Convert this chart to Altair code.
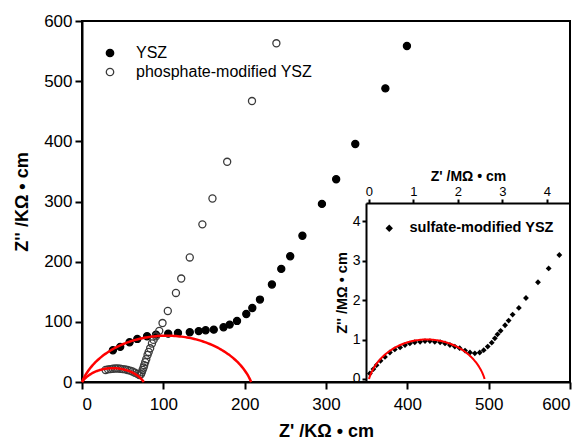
import math
import altair as alt
import pandas as pd

# ---- data ----
ysz_x = [38, 47, 58.5, 68, 80, 91, 106, 118, 132.5, 143.5, 152, 162, 174, 181.6, 190.6,
         202, 209.4, 218.8, 233.5, 245, 256, 271, 295, 312.5, 336, 373, 399.5]
ysz_y = [52.7, 58.4, 66, 71.6, 76, 78.8, 80.4, 81.6, 82.6, 84.6, 86, 87, 91, 95.4, 101.5,
         113, 123, 137, 162, 188, 209, 243, 296, 337, 395.5, 488, 558.5]

pho_x = [29, 32, 35, 38, 41, 44, 47, 50, 53, 56, 59, 62, 65, 68, 70.5, 72.5, 73.5, 74.5,
         75.7, 76.5, 77.7, 79, 80.6, 82, 83.8, 86, 88, 91, 95, 99, 105.5, 115.5, 122,
         132.5, 148, 160.4, 178.5, 209, 239]
pho_y = [20, 21, 21.5, 22, 22.5, 22.5, 22, 21.5, 21, 20, 19, 17.5, 15.5, 13.5, 11.5, 13,
         16, 20, 24, 28, 33, 38, 45, 50, 56, 64, 70, 76, 85, 98, 118, 148, 172,
         207, 262, 305, 366, 467, 563]

sul_x = [0.02, 0.10, 0.17, 0.26, 0.36, 0.47, 0.58, 0.70, 0.81, 0.92, 1.03, 1.15, 1.26,
         1.37, 1.48, 1.60, 1.71, 1.82, 1.93, 2.04, 2.16, 2.27, 2.38, 2.49, 2.58, 2.67,
         2.76, 2.83, 2.89, 2.96, 3.06, 3.14, 3.23, 3.37, 3.53, 3.80, 4.04, 4.28]
sul_y = [0.14, 0.25, 0.35, 0.46, 0.56, 0.67, 0.75, 0.80, 0.86, 0.90, 0.93, 0.94, 0.96,
         0.96, 0.94, 0.93, 0.90, 0.86, 0.82, 0.78, 0.72, 0.67, 0.65, 0.67, 0.73, 0.82,
         0.92, 1.03, 1.13, 1.22, 1.36, 1.48, 1.63, 1.80, 2.05, 2.45, 2.80, 3.14]

# fitted (depressed) semicircles: start, end on the real axis, and peak height
main_arc_start = [0, 0]
main_arc_end = [208, 76]
main_arc_height = [77, 23]
inset_arc_start = [0.0]
inset_arc_end = [2.6]
inset_arc_height = [1.0]

series_names = ["YSZ", "phosphate-modified YSZ"]
sulfate_name = "sulfate-modified YSZ"


def arc_frame(starts, ends, heights, n=120):
    rows = []
    for k, (x0, x1, h) in enumerate(zip(starts, ends, heights)):
        half = (x1 - x0) / 2.0
        cx = (x0 + x1) / 2.0
        r = (half ** 2 + h ** 2) / (2 * h)
        d = r - h
        th0 = math.asin(d / r)
        for i in range(n + 1):
            th = th0 + (math.pi - 2 * th0) * i / n
            rows.append({"arc": k, "i": i, "x": cx + r * math.cos(th), "y": -d + r * math.sin(th)})
    return pd.DataFrame(rows)


main_pts = pd.DataFrame(
    {"x": ysz_x + pho_x, "y": ysz_y + pho_y,
     "series": [series_names[0]] * len(ysz_x) + [series_names[1]] * len(pho_x)}
)
sul_df = pd.DataFrame({"x": sul_x, "y": sul_y, "series": [sulfate_name] * len(sul_x)})
main_arcs = arc_frame(main_arc_start, main_arc_end, main_arc_height)
inset_arcs = arc_frame(inset_arc_start, inset_arc_end, inset_arc_height)

W, H = 488, 361
FONT = "Liberation Sans"

common = dict(grid=False, domainColor="black", tickColor="black", labelColor="black",
              titleColor="black", titleFontWeight="bold", tickWidth=2, domainWidth=2)

# ---- main scales / axes ----
mx = alt.X("x:Q", scale=alt.Scale(domain=[0, 600], nice=False),
           axis=alt.Axis(values=[0, 100, 200, 300, 400, 500, 600], title="Z' /KΩ • cm",
                         titleFontSize=18, labelFontSize=17, tickSize=7,
                         labelPadding=7, titlePadding=10, **common))
my = alt.Y("y:Q", scale=alt.Scale(domain=[0, 600], nice=False),
           axis=alt.Axis(values=[0, 100, 200, 300, 400, 500, 600], title="Z'' /KΩ • cm",
                         titleFontSize=18, labelFontSize=17, tickSize=7,
                         labelPadding=3, titlePadding=12, **common))

pts = alt.Chart(main_pts).mark_point(shape="circle", size=50, strokeWidth=1.3, opacity=1).encode(
    x=mx, y=my,
    fill=alt.Fill("series:N", scale=alt.Scale(domain=series_names, range=["black", "transparent"]),
                  legend=alt.Legend(title=None, orient="none", legendX=20, legendY=24,
                                    labelFontSize=16, labelOffset=18, rowPadding=3,
                                    labelLimit=0, symbolSize=55, symbolStrokeWidth=1.3,
                                    labelColor="black")),
    stroke=alt.Stroke("series:N", scale=alt.Scale(domain=series_names, range=["black", "#3a3a3a"]),
                      legend=None),
)

arcs_main = alt.Chart(main_arcs).mark_line(color="red", strokeWidth=2.5).encode(
    x="x:Q", y="y:Q", detail="arc:N", order="i:Q"
)

main_layer = alt.layer(pts, arcs_main)

# ---- inset scales / axes ----
ix = alt.X("x:Q", scale=alt.Scale(domain=[-0.067, 4.52], range=[284, W], nice=False, zero=False),
           axis=alt.Axis(orient="top", offset=-182, values=[0, 1, 2, 3, 4], format="d",
                         title="Z' /MΩ • cm", titleFontSize=14, labelFontSize=13,
                         tickSize=4, labelPadding=1, titlePadding=2, **common))
iy = alt.Y("y:Q", scale=alt.Scale(domain=[-0.076, 4.456], range=[H, 182], nice=False, zero=False),
           axis=alt.Axis(orient="left", offset=-284, values=[0, 1, 2, 3, 4], format="d",
                         title="Z'' /MΩ • cm", titleFontSize=14.5, labelFontSize=14,
                         tickSize=4, labelPadding=2, titlePadding=3, **common))

sul = alt.Chart(sul_df).mark_point(filled=True, color="black", size=34, opacity=1).encode(
    x=ix, y=iy,
    shape=alt.Shape("series:N", scale=alt.Scale(domain=[sulfate_name], range=["diamond"]),
                    legend=alt.Legend(title=None, orient="none", legendX=300, legendY=200,
                                      labelFontSize=14.5, labelFontWeight="bold", labelOffset=13,
                                      labelLimit=0, symbolSize=55, symbolFillColor="black",
                                      symbolStrokeColor="black", labelColor="black")),
)

arc_inset = alt.Chart(inset_arcs).mark_line(color="red", strokeWidth=2).encode(
    x="x:Q", y="y:Q", detail="arc:N", order="i:Q"
)

inset_layer = alt.layer(sul, arc_inset)

chart = alt.layer(main_layer, inset_layer).resolve_scale(
    x="independent", y="independent"
).properties(
    width=W, height=H,
    autosize=alt.AutoSizeParams(type="none"),
    padding={"left": 82, "top": 21, "right": 16, "bottom": 60},
).configure(font=FONT).configure_view(stroke="black", strokeWidth=2)

chart.save("out.html", embed_options={"renderer": "svg", "actions": False})
